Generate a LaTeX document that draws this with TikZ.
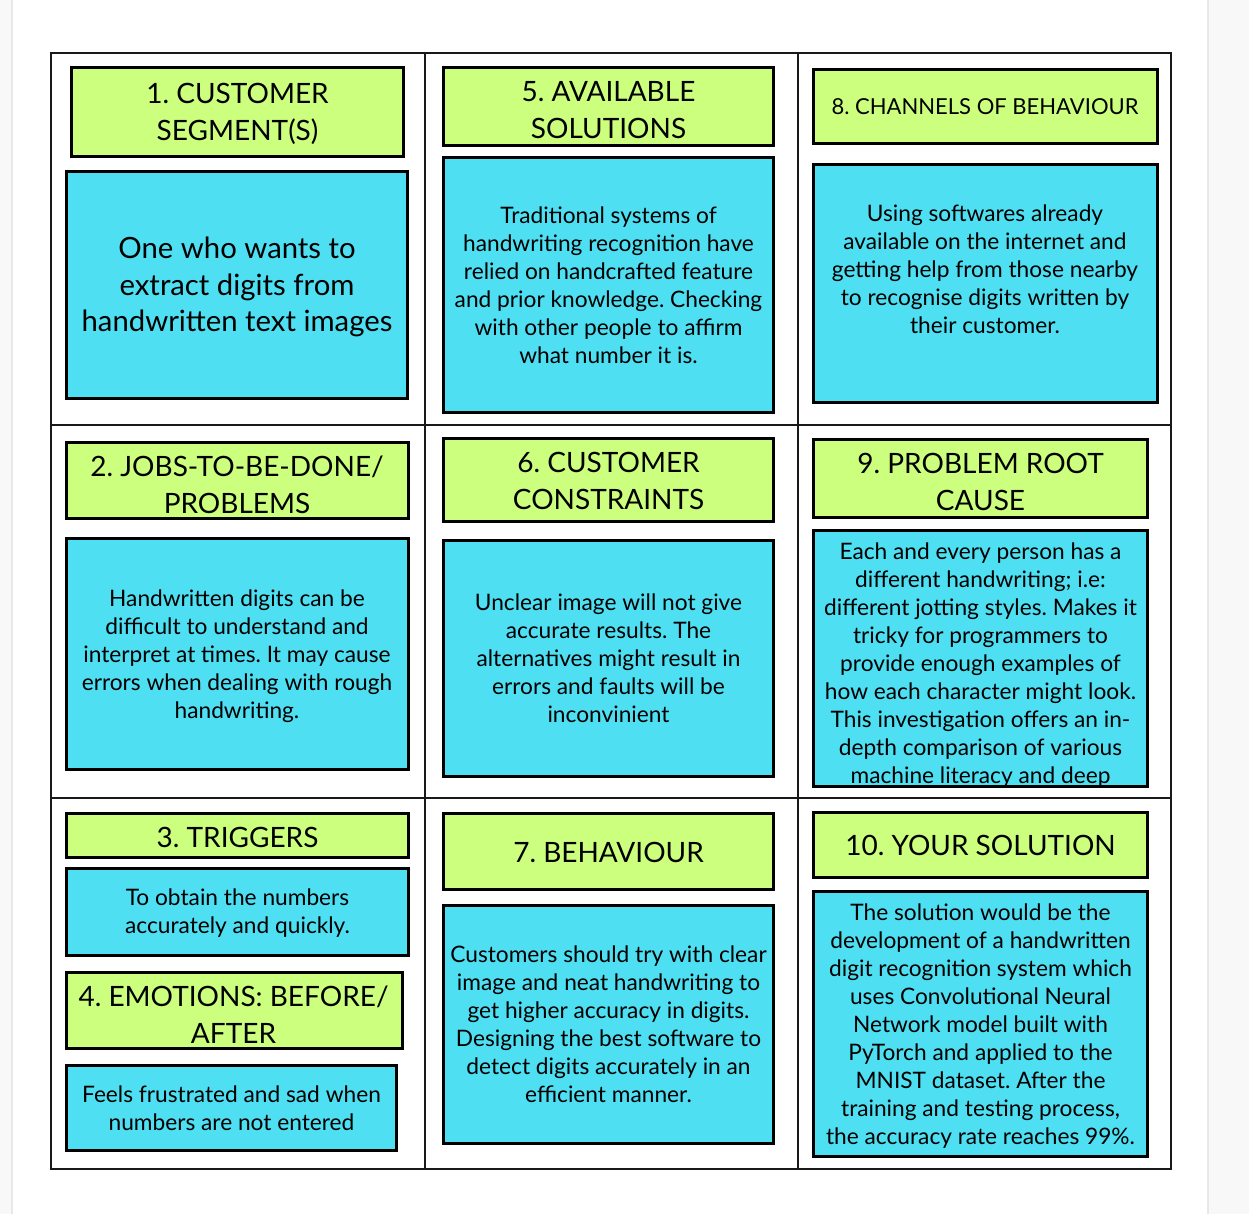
\documentclass[tikz,border=0pt]{standalone}
\usepackage{fontspec}
\setmainfont{Lato}
\frenchspacing
\definecolor{stickyg}{RGB}{203,255,125}
\definecolor{stickyb}{RGB}{78,223,242}
\definecolor{gridc}{RGB}{25,25,25}
\definecolor{pagegray}{RGB}{248,248,248}
\definecolor{pageline}{RGB}{232,232,232}
\tikzset{
  hbox/.style={draw=black, line width=3pt, fill=stickyg, inner sep=0pt, anchor=center},
  bbox/.style={draw=black, line width=3pt, fill=stickyb, inner sep=0pt, anchor=center},
  htext/.style={align=center, inner sep=0pt, text=black, font=\frenchspacing\fontsize{28}{37}\selectfont},
  htextsm/.style={align=center, inner sep=0pt, text=black, font=\frenchspacing\fontsize{22}{28}\selectfont},
  btext/.style={align=center, inner sep=0pt, text=black, font=\frenchspacing\fontsize{22.7}{28}\selectfont},
  btextbig/.style={align=center, inner sep=0pt, text=black, font=\frenchspacing\fontsize{29.3}{36.5}\selectfont},
  gridline/.style={draw=gridc, line width=2pt}
}
\begin{document}
\begin{tikzpicture}[x=1pt,y=-1pt]
\useasboundingbox (0,0) rectangle (1249,1214);
% page background
\fill[white] (0,0) rectangle (1249,1214);
\fill[pagegray] (0,0) rectangle (11,1214);
\draw[pageline, line width=2pt] (12,0) -- (12,1214);
\fill[pagegray] (1208,0) rectangle (1249,1214);
\draw[pageline, line width=2pt] (1208,0) -- (1208,1214);
% grid
\draw[gridline] (51,53) rectangle (1171,1169);
\draw[gridline] (425,53) -- (425,1169);
\draw[gridline] (798,53) -- (798,1169);
\draw[gridline] (51,425) -- (1171,425);
\draw[gridline] (51,798) -- (1171,798);

% boxes
\node[hbox, minimum width=332pt, minimum height=89pt] (h1) at (237.5,112) {};
\node[bbox, minimum width=341pt, minimum height=227pt] (b1) at (237,285) {};
\node[hbox, minimum width=330pt, minimum height=78pt] (h5) at (608.5,106.5) {};
\node[bbox, minimum width=330pt, minimum height=255pt] (b5) at (608.5,285) {};
\node[hbox, minimum width=344pt, minimum height=74pt] (h8) at (985.5,106.5) {};
\node[bbox, minimum width=344pt, minimum height=238pt] (b8) at (985.5,283.5) {};
\node[hbox, minimum width=342pt, minimum height=76pt] (h2) at (237.5,480.5) {};
\node[bbox, minimum width=342pt, minimum height=231pt] (b2) at (237.5,654) {};
\node[hbox, minimum width=330pt, minimum height=83pt] (h6) at (608.5,480) {};
\node[bbox, minimum width=330pt, minimum height=236pt] (b6) at (608.5,658.5) {};
\node[hbox, minimum width=334pt, minimum height=78pt] (h9) at (980.5,478.5) {};
\node[bbox, minimum width=334pt, minimum height=256pt] (b9) at (980.5,658.5) {};
\node[hbox, minimum width=342pt, minimum height=44pt] (h3) at (237.5,835.5) {};
\node[bbox, minimum width=342pt, minimum height=87pt] (b3) at (237.5,912) {};
\node[hbox, minimum width=336pt, minimum height=76pt] (h4) at (234.5,1010.5) {};
\node[bbox, minimum width=330pt, minimum height=85pt] (b4) at (231.5,1108) {};
\node[hbox, minimum width=330pt, minimum height=76pt] (h7) at (608.5,851.5) {};
\node[bbox, minimum width=330pt, minimum height=238pt] (b7) at (608.5,1024.5) {};
\node[hbox, minimum width=334pt, minimum height=65pt] (h10) at (980.5,845) {};
\node[bbox, minimum width=334pt, minimum height=265pt] (b10) at (980.5,1024) {};

% texts
\node[htext] (h1t) at (237.5,114.5) {\strut 1. CUSTOMER\\SEGMENT(S)\strut};
\node[btextbig] (b1t) at (237,288) {\strut One who wants to\\extract digits from\\handwritten text images\strut};
\node[htext] (h5t) at (608.5,112.5) {\strut 5. AVAILABLE\\SOLUTIONS\strut};
\node[btext] (b5t) at (608.5,288) {\strut Traditional systems of\\handwriting recognition have\\relied on handcrafted feature\\and prior knowledge. Checking\\with other people to affirm\\what number it is.\strut};
\node[htextsm] (h8t) at (985,109) {\strut 8. CHANNELS OF BEHAVIOUR\strut};
\node[btext] (b8t) at (985,272) {\strut Using softwares already\\available on the internet and\\getting help from those nearby\\to recognise digits written by\\their customer.\strut};
\node[htext] (h2t) at (237,488) {\strut 2. JOBS-TO-BE-DONE/\\PROBLEMS\strut};
\node[btext] (b2t) at (237,657) {\strut Handwritten digits can be\\difficult to understand and\\interpret at times. It may cause\\errors when dealing with rough\\handwriting.\strut};
\node[htext] (h6t) at (608.5,484) {\strut 6. CUSTOMER\\CONSTRAINTS\strut};
\node[btext] (b6t) at (608.5,661) {\strut Unclear image will not give\\accurate results. The\\alternatives might result in\\errors and faults will be\\inconvinient\strut};
\node[htext] (h9t) at (980.5,485) {\strut 9. PROBLEM ROOT\\CAUSE\strut};
\node[btext] (b9t) at (980.5,666) {\strut Each and every person has a\\different handwriting; i.e:\\different jotting styles. Makes it\\tricky for programmers to\\provide enough examples of\\how each character might look.\\This investigation offers an in-\\depth comparison of various\\machine literacy and deep\strut};
\node[htext] (h3t) at (237.5,840) {\strut 3. TRIGGERS\strut};
\node[btext] (b3t) at (237.5,914) {\strut To obtain the numbers\\accurately and quickly.\strut};
\node[htext] (h4t) at (233.5,1018) {\strut 4. EMOTIONS: BEFORE/\\AFTER\strut};
\node[btext] (b4t) at (231.5,1111) {\strut Feels frustrated and sad when\\numbers are not entered\strut};
\node[htext] (h7t) at (608.5,855) {\strut 7. BEHAVIOUR\strut};
\node[btext] (b7t) at (608.5,1027) {\strut Customers should try with clear\\image and neat handwriting to\\get higher accuracy in digits.\\Designing the best software to\\detect digits accurately in an\\efficient manner.\strut};
\node[htext] (h10t) at (980.5,848) {\strut 10. YOUR SOLUTION\strut};
\node[btext] (b10t) at (980.5,1027) {\strut The solution would be the\\development of a handwritten\\digit recognition system which\\uses Convolutional Neural\\Network model built with\\PyTorch and applied to the\\MNIST dataset. After the\\training and testing process,\\the accuracy rate reaches 99\%.\strut};
\end{tikzpicture}
\end{document}
